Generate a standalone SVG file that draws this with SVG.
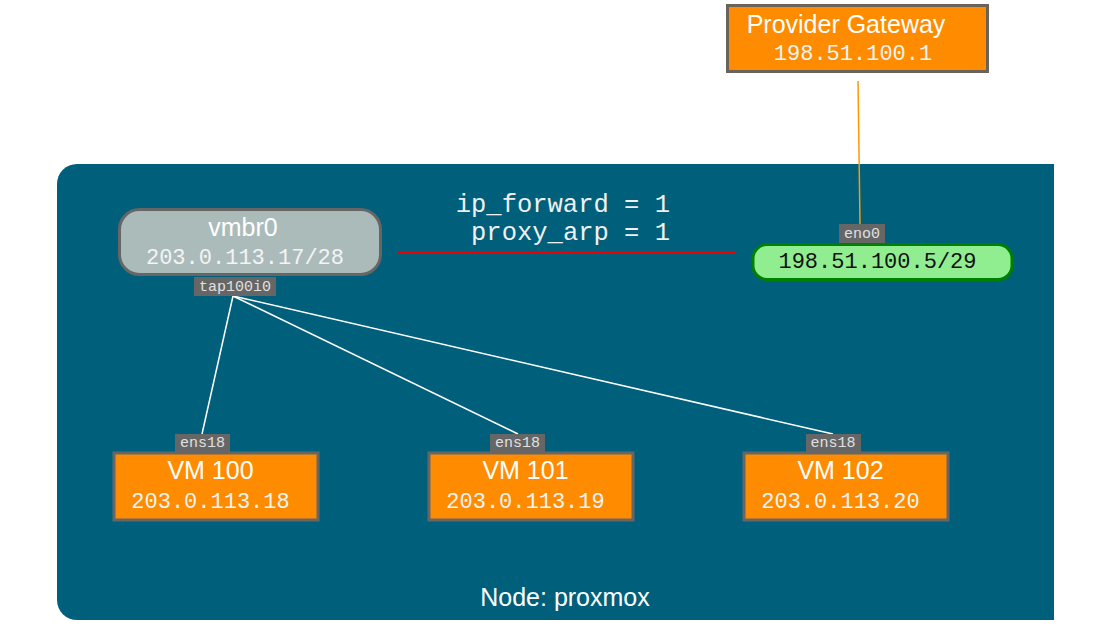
<svg xmlns="http://www.w3.org/2000/svg" width="1101" height="632" viewBox="0 0 1101 632">
<style>
.sans{font-family:"Liberation Sans",Arial,sans-serif;font-size:25px;fill:#ffffff;text-anchor:middle}
.mono{font-family:"Liberation Mono","Courier New",monospace;font-size:22px;fill:#f4f4f4;text-anchor:middle}
.lbl{font-family:"Liberation Mono","Courier New",monospace;font-size:15px;fill:#e0e0e0;text-anchor:middle}
.lblbox{fill:#666666}
.vm{fill:#ff8c00;stroke:#666666;stroke-width:3}
.wire{stroke:#ffffff;stroke-width:1.5;fill:none}
</style>
<g id="cluster-proxmox">
<path d="M77,164 H1054 V620 H77 A20,20 0 0 1 57,600 V184 A20,20 0 0 1 77,164 Z" fill="#005f7b"/>
<text class="sans" x="565" y="606">Node: proxmox</text>
</g>
<g id="connectors">
<line x1="858" y1="81" x2="860" y2="224" stroke="#ff9900" stroke-width="1.5"/>
<line x1="397" y1="252" x2="735" y2="252" stroke="#ee0000" stroke-width="2"/>
<line class="wire" x1="233" y1="296" x2="202" y2="434"/>
<line class="wire" x1="233" y1="296" x2="518" y2="434"/>
<line class="wire" x1="233" y1="296" x2="833" y2="434"/>
<text x="670" y="212" style="font-family:'Liberation Mono','Courier New',monospace;font-size:25.5px;fill:#f0f0f0;text-anchor:end">ip_forward = 1</text>
<text x="670" y="240" style="font-family:'Liberation Mono','Courier New',monospace;font-size:25.5px;fill:#f0f0f0;text-anchor:end">proxy_arp = 1</text>
</g>
<g id="provider-gateway">
<rect x="727.5" y="5.5" width="260" height="66" fill="#ff8c00" stroke="#6b6359" stroke-width="3"/>
<text class="sans" x="846" y="33">Provider Gateway</text>
<text class="mono" x="853" y="60">198.51.100.1</text>
</g>
<g id="vmbr0">
<rect x="119.5" y="209.5" width="261" height="65" rx="20" fill="#abbbba" stroke="#666666" stroke-width="3"/>
<text class="sans" x="243" y="236">vmbr0</text>
<text class="mono" x="245" y="264">203.0.113.17/28</text>
<rect class="lblbox" x="194" y="277" width="82" height="19"/>
<text class="lbl" x="235" y="291">tap100i0</text>
</g>
<g id="eno0">
<rect class="lblbox" x="839" y="224" width="46" height="19"/>
<text class="lbl" x="862" y="238">eno0</text>
<rect x="753" y="244.5" width="259" height="35" rx="14" fill="#90ee90" stroke="#008000" stroke-width="3"/>
<text class="mono" x="877.5" y="268" style="fill:#111111">198.51.100.5/29</text>
</g>
<g id="vm100">
<rect class="lblbox" x="175" y="434" width="55" height="18"/>
<text class="lbl" x="202.5" y="447">ens18</text>
<rect class="vm" x="114" y="453" width="204" height="67"/>
<text class="sans" x="210.5" y="479">VM 100</text>
<text class="mono" x="210.5" y="508">203.0.113.18</text>
</g>
<g id="vm101">
<rect class="lblbox" x="490" y="434" width="55" height="18"/>
<text class="lbl" x="517.5" y="447">ens18</text>
<rect class="vm" x="429" y="453" width="204" height="67"/>
<text class="sans" x="525.5" y="479">VM 101</text>
<text class="mono" x="525.5" y="508">203.0.113.19</text>
</g>
<g id="vm102">
<rect class="lblbox" x="806" y="434" width="55" height="18"/>
<text class="lbl" x="833" y="447">ens18</text>
<rect class="vm" x="744" y="453" width="204" height="67"/>
<text class="sans" x="840.5" y="479">VM 102</text>
<text class="mono" x="840.5" y="508">203.0.113.20</text>
</g>
</svg>
